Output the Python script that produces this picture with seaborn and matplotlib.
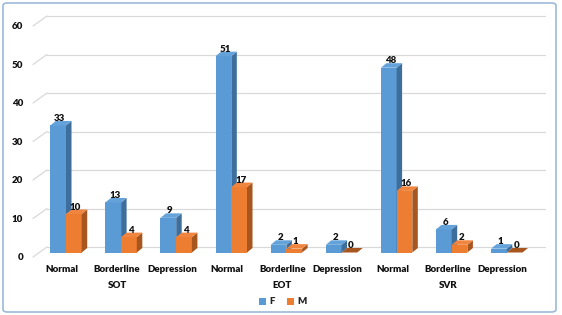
import pandas as pd
import matplotlib.pyplot as plt
import matplotlib.transforms as mtransforms
from matplotlib.patches import Polygon, FancyBboxPatch, Patch
import seaborn as sns

# data
groups = ["SOT", "EOT", "SVR"]
levels = ["Normal", "Borderline", "Depression"]
sexes = ["F", "M"]
female = [33, 13, 9, 51, 2, 2, 48, 6, 1]
male = [10, 4, 4, 17, 1, 0, 16, 2, 0]
yticks = [0, 10, 20, 30, 40, 50, 60]

front_colors = {"F": "#5b9bd5", "M": "#ed7d31"}
side_colors = {"F": "#3e6e9c", "M": "#a8561f"}
top_colors = {"F": "#64a2da", "M": "#f08540"}

keys = [f"{g}|{l}" for g in groups for l in levels]
df = pd.DataFrame({
    "key": keys * 2,
    "sex": ["F"] * len(keys) + ["M"] * len(keys),
    "count": female + male,
})

sns.set_theme(style="white")
plt.rcParams["font.family"] = ["Lato", "DejaVu Sans"]
txt = dict(fontsize=7, fontweight="heavy", color="#111111")

W, H = 562, 315
fig = plt.figure(figsize=(W / 100, H / 100), dpi=100)
# plot area in pixels (front plane of the bars)
px_left, px_right, px_top, px_bottom = 33, 545, 21.5, 252.5
ax = fig.add_axes([px_left / W, 1 - px_bottom / H,
                   (px_right - px_left) / W, (px_bottom - px_top) / H])

sns.barplot(data=df, x="key", y="count", hue="sex", order=keys, hue_order=sexes,
            palette=front_colors, width=0.57, saturation=1, ax=ax, zorder=3,
            linewidth=0, edgecolor="none", legend=False)

cat_px = 55.1  # pixels between category centres
x_lo = -33 / cat_px
x_hi = x_lo + (px_right - px_left) / cat_px
ax.set_xlim(x_lo, x_hi)
ax.set_ylim(0, 60)
sx = 1 / cat_px
sy = 60 / (px_bottom - px_top)

# back wall gridlines with the little 3D floor diagonal
grid_c = "#d9d9d9"
for v in yticks:
    ax.plot([x_lo + 14 * sx, x_hi], [v + 5.5 * sy] * 2, color=grid_c, lw=0.9,
            zorder=1, clip_on=False)
    ax.plot([x_lo, x_lo + 14 * sx], [v - 4.5 * sy, v + 5.5 * sy], color=grid_c,
            lw=0.9, zorder=1, clip_on=False)

# fake 3D depth: side and top faces
ddx, ddy = 5.5 * sx, 4.5 * sy
for i, (sex, cont) in enumerate(zip(sexes, ax.containers)):
    z = 3 + i * 0.2
    for bar in cont:
        bar.set_zorder(z)
        x0, w, h = bar.get_x(), bar.get_width(), bar.get_height()
        x1 = x0 + w
        ax.add_patch(Polygon([(x1, 0), (x1, h), (x1 + ddx, h + ddy), (x1 + ddx, ddy)],
                             closed=True, fc=side_colors[sex], ec="none", zorder=z + 0.05))
        ax.add_patch(Polygon([(x0, h), (x1, h), (x1 + ddx, h + ddy), (x0 + ddx, h + ddy)],
                             closed=True, fc=side_colors[sex] if h == 0 else top_colors[sex],
                             ec="none", zorder=z + 0.1))
        ax.annotate(f"{int(h)}", (x0 + w / 2, h), xytext=(1.5, 7), textcoords="offset pixels",
                    ha="center", va="center", zorder=5, **txt)

for s in ax.spines.values():
    s.set_visible(False)
ax.grid(False)
ax.set_xlabel("")
ax.set_ylabel("")

ax.set_yticks(yticks)
ax.set_yticklabels([str(v) for v in yticks], **txt)
ax.set_xticks(range(len(keys)))
ax.set_xticklabels(levels * len(groups), **txt)
ax.tick_params(axis="both", length=0)
ax.tick_params(axis="y", pad=7)
ax.tick_params(axis="x", pad=9)

shift_y = mtransforms.ScaledTranslation(0, -4 / 100, fig.dpi_scale_trans)
for lab in ax.get_yticklabels():
    lab.set_transform(lab.get_transform() + shift_y)
shift_x = mtransforms.ScaledTranslation(-4 / 100, 0, fig.dpi_scale_trans)
for lab in ax.get_xticklabels():
    lab.set_transform(lab.get_transform() + shift_x)

# group labels under the middle category
blend = mtransforms.blended_transform_factory(ax.transData, ax.transAxes)
for gi, g in enumerate(groups):
    ax.text(gi * 3 + 1 - 4 * sx, (px_bottom - 285.5) / (px_bottom - px_top), g,
            transform=blend, ha="center", va="center", **txt)

handles = [Patch(facecolor=front_colors[s], edgecolor="none", label=s) for s in sexes]
fig.legend(handles=handles, loc="center", bbox_to_anchor=(283 / W, 1 - 302 / H),
           ncol=2, frameon=False, handlelength=0.7, handleheight=0.7,
           handletextpad=0.4, columnspacing=1.2, borderpad=0,
           prop={"size": 7, "weight": "heavy"})

# rounded light-blue frame around the chart
fig.patches.append(FancyBboxPatch((3 / W, 3 / H), 553 / W, 309 / H,
                                  boxstyle="round,pad=0,rounding_size=0.008",
                                  transform=fig.transFigure, fill=False,
                                  ec="#9db9d8", lw=1.2))

fig.savefig("out.png", dpi=100)
